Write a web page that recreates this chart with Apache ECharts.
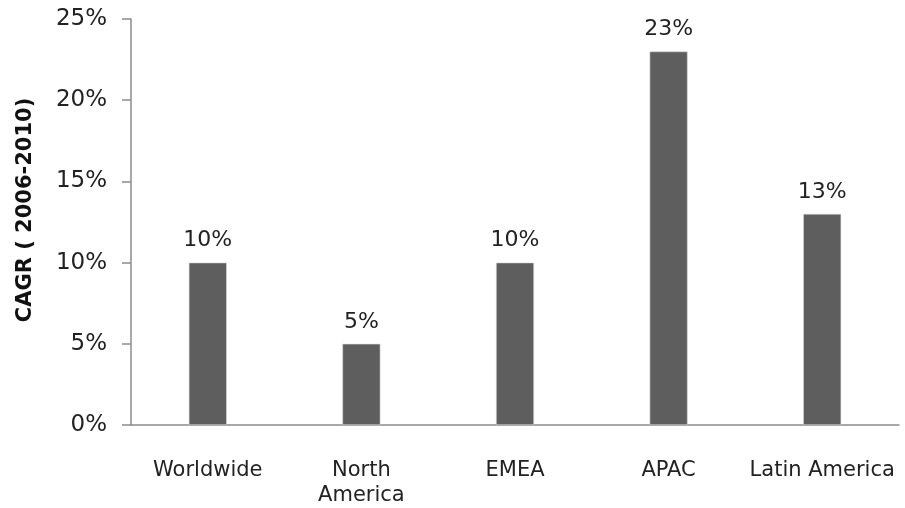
<!DOCTYPE html>
<html><head><meta charset="utf-8">
<script src="https://cdn.jsdelivr.net/npm/echarts@6/dist/echarts.min.js"></script>
<style>html,body{margin:0;padding:0;background:#fff}#c{width:905px;height:508px}</style>
</head><body><div id="c"></div>
<script>
var categories = ['Worldwide', 'North\nAmerica', 'EMEA', 'APAC', 'Latin America'];
var values = [10, 5, 10, 23, 13];
var yTicks = [0, 5, 10, 15, 20, 25];
var chart = echarts.init(document.getElementById('c'));
var font = 'DejaVu Sans';
chart.setOption({
  animation: false,
  grid: {left: 131, right: 6, top: 19, bottom: 81, containLabel: false},
  xAxis: {
    type: 'category', data: categories,
    axisLine: {lineStyle: {color: '#8c8c8c', width: 1.5}},
    axisTick: {interval: 0, length: 9, lineStyle: {color: '#8c8c8c', width: 1.5}},
    axisLabel: {interval: 0, color: '#222', fontFamily: font, fontSize: 21, margin: 33, lineHeight: 25}
  },
  yAxis: {
    type: 'value', min: yTicks[0], max: yTicks[yTicks.length-1], interval: 5,
    name: 'CAGR ( 2006-2010)', nameLocation: 'middle', nameGap: 95,
    nameTextStyle: {fontFamily: font, fontWeight: 'bold', fontSize: 21, color: '#111', padding: [0, 0, 0, 24]},
    axisLine: {show: true, lineStyle: {color: '#8c8c8c', width: 1.5}},
    axisTick: {show: true, length: 9, lineStyle: {color: '#8c8c8c', width: 1.5}},
    splitLine: {show: false},
    axisLabel: {color: '#222', fontFamily: font, fontSize: 23, margin: 24, formatter: '{value}%'}
  },
  series: [{
    type: 'bar', data: values, barWidth: 38,
    itemStyle: {color: '#5e5e5e', borderColor: '#d8d8d8', borderWidth: 0.6},
    label: {show: true, position: 'top', distance: 11, formatter: '{c}%', color: '#222', fontFamily: font, fontSize: 22}
  }]
});
</script></body></html>
